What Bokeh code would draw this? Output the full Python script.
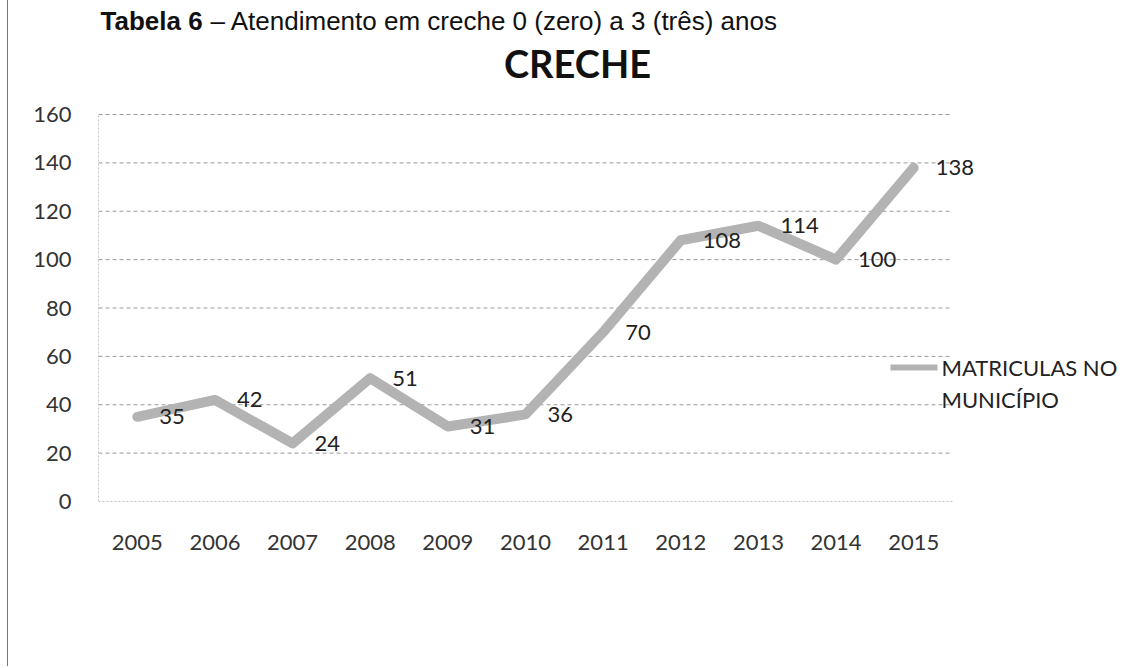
from bokeh.plotting import figure
from bokeh.models import Range1d, LabelSet, Label, ColumnDataSource, FixedTicker
from bokeh.embed import file_html
from bokeh.resources import INLINE
from bokeh.core.properties import value

# ---- data ----
years = ["2005", "2006", "2007", "2008", "2009", "2010", "2011", "2012", "2013", "2014", "2015"]
matriculas = [35, 42, 24, 51, 31, 36, 70, 108, 114, 100, 138]
y_ticks = [0, 20, 40, 60, 80, 100, 120, 140, 160]
chart_title = "CRECHE"
series_name = ["MATRICULAS NO", "MUNICÍPIO"]
caption_bold = "Tabela 6"
caption_rest = "– Atendimento em creche 0 (zero) a 3 (três) anos"

FONT = "Lato"
LINE_COLOR = "#b3b3b3"
GRID_COLOR = "#9a9a9a"

n = len(years)
xs = list(range(n))
y_max = y_ticks[-1]

# layout geometry (pixels)
W, H = 1128, 666
LEFT, BOTTOM = 90, 165            # plot area left edge / space under plot area
PLOT_W = 854                       # width of the category area
PLOT_H = 387                       # height of the 0..160 area
XU = PLOT_W / n                    # pixels per category
YU = PLOT_H / y_max                # pixels per unit
FRAME_H = H - BOTTOM
x_end = -0.5 + (W - LEFT) / XU
y_end = FRAME_H / YU


def px_x(px):
    # page pixel -> x coordinate (figure starts at page x = 8)
    return -0.5 + (px - 8 - LEFT) / XU


def px_y(py):
    return (FRAME_H - py) / YU


p = figure(width=W, height=H,
           x_range=Range1d(-0.5, x_end),
           y_range=Range1d(0, y_end),
           output_backend="svg", toolbar_location=None, title=None,
           min_border_left=LEFT, min_border_right=0,
           min_border_top=0, min_border_bottom=BOTTOM)
p.outline_line_color = None
p.background_fill_color = "white"
p.border_fill_color = "white"
p.styles = {"border-left": "1px solid #777777", "margin-left": "7px"}

p.xgrid.grid_line_color = None
p.ygrid.grid_line_color = None

# axes (labels only; lines drawn below)
p.yaxis.ticker = FixedTicker(ticks=y_ticks)
p.xaxis.ticker = FixedTicker(ticks=xs)
p.xaxis.major_label_overrides = {i: y for i, y in enumerate(years)}
for ax in (p.xaxis[0], p.yaxis[0]):
    ax.axis_line_color = None
    ax.major_tick_line_color = None
    ax.minor_tick_line_color = None
    ax.major_label_text_font = FONT
    ax.major_label_text_font_size = "22px"
    ax.major_label_text_color = "#333333"
p.yaxis.major_label_standoff = 21
p.xaxis.major_label_standoff = 27

# horizontal gridlines limited to the plot area
grid_y = [t for t in y_ticks if t > 0]
p.segment(x0=[-0.5] * len(grid_y), x1=[n - 0.5] * len(grid_y), y0=grid_y, y1=grid_y,
          line_color=GRID_COLOR, line_dash="4 3", line_width=1)
# plot-area left and bottom edges
p.segment(x0=[-0.5, -0.5], x1=[-0.5, n - 0.5], y0=[0, 0], y1=[y_max, 0],
          line_color="#8a8a8a", line_dash="2 2", line_width=1)

src = ColumnDataSource(dict(x=xs, val=matriculas, lab=[str(v) for v in matriculas]))
p.line("x", "val", source=src, line_width=10, line_color=LINE_COLOR,
       line_join="round", line_cap="round")

labels = LabelSet(x="x", y="val", text="lab", source=src, x_offset=22,
                  text_align="left", text_baseline="middle",
                  text_font=value(FONT), text_font_size="22px", text_color="#222222")
p.add_layout(labels)

# title
p.add_layout(Label(x=px_x(577), y=px_y(62), text=chart_title,
                   text_font=FONT, text_font_style="bold", text_font_size="38px",
                   text_align="center", text_baseline="middle", text_color="#111111"))

# legend (manual)
p.line(x=[px_x(890), px_x(937)], y=[px_y(367), px_y(367)],
       line_width=6, line_color=LINE_COLOR)
p.add_layout(Label(x=px_x(941), y=px_y(367), text=series_name[0],
                   text_font=FONT, text_font_size="22px", text_align="left",
                   text_baseline="middle", text_color="#222222"))
p.add_layout(Label(x=px_x(941), y=px_y(399), text=series_name[1],
                   text_font=FONT, text_font_size="22px", text_align="left",
                   text_baseline="middle", text_color="#222222"))

# caption at the top (kept inside the drawing area)
p.add_layout(Label(x=px_x(100), y=px_y(20), text=caption_bold,
                   text_font="Liberation Sans", text_font_style="bold", text_font_size="26px",
                   text_align="left", text_baseline="alphabetic", text_color="#111111"))
p.add_layout(Label(x=px_x(210), y=px_y(20), text=caption_rest,
                   text_font="Liberation Sans", text_font_size="26px",
                   text_align="left", text_baseline="alphabetic", text_color="#111111"))

open("out.html", "w").write(file_html(p, INLINE))
